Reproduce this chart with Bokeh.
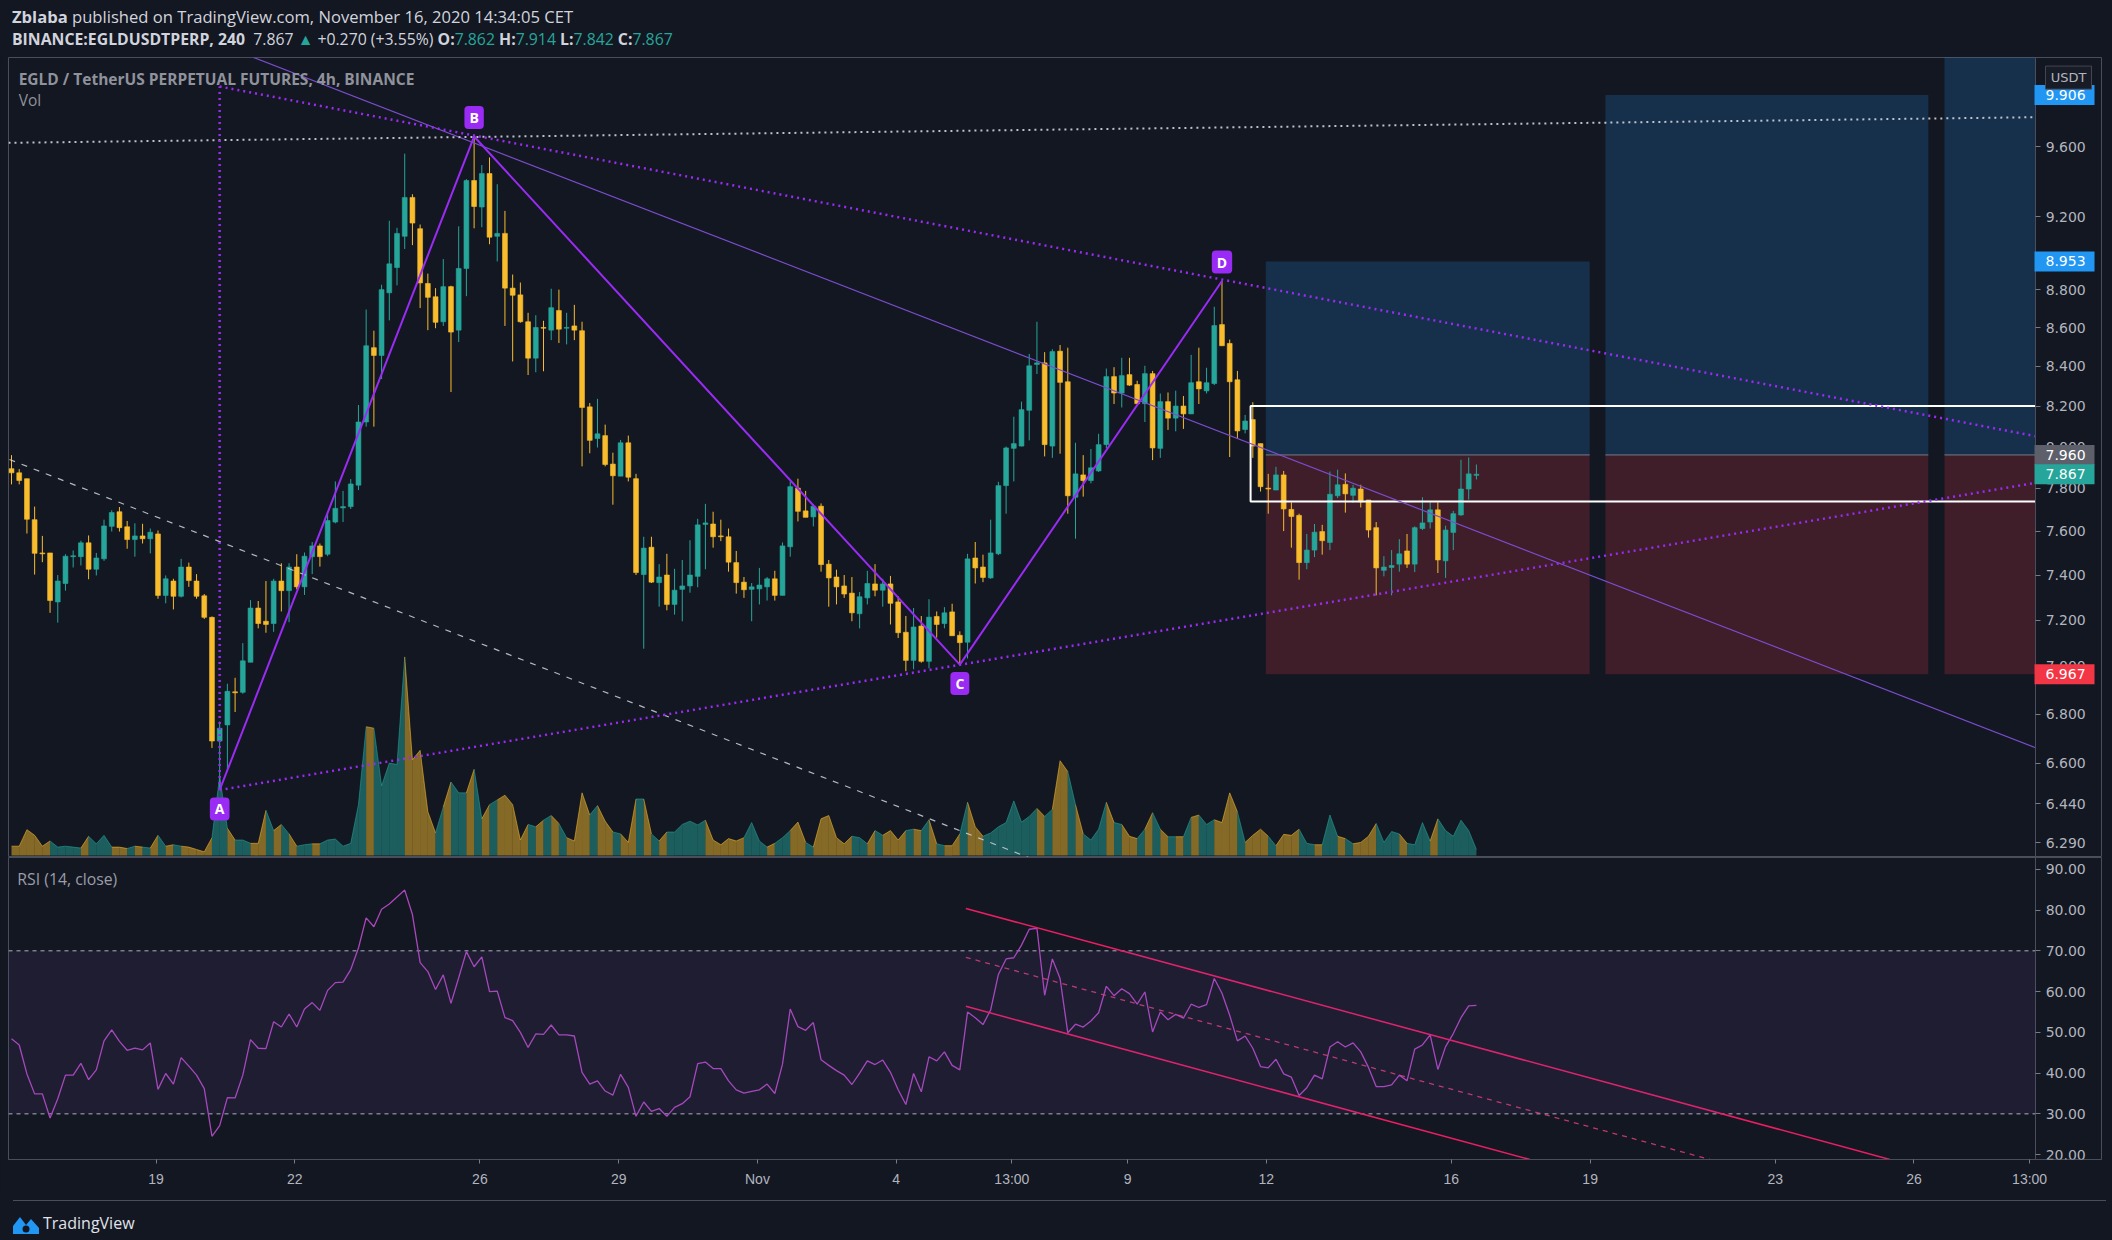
from bokeh.plotting import figure
from bokeh.models import (Range1d, LinearScale, FixedTicker, PrintfTickFormatter, Label,
                          BoxAnnotation, Div, ColumnDataSource)
from bokeh.layouts import column
from bokeh.embed import file_html
from bokeh.resources import INLINE

# ---------------- data (4h candles, EGLD/USDT perp, Oct 15 21:00 -> Nov 16 13:00 CET) -------------
OPEN = [
7.894, 7.874, 7.846, 7.653, 7.500, 7.500, 7.280, 7.362, 7.483, 7.483,
7.546, 7.426, 7.473, 7.622, 7.690, 7.620, 7.561, 7.578, 7.565, 7.587,
7.309, 7.373, 7.305, 7.436, 7.373, 7.307, 7.212, 6.690, 6.756, 6.893,
6.891, 7.018, 7.253, 7.195, 7.185, 7.373, 7.330, 7.436, 7.347, 7.483,
7.532, 7.494, 7.642, 7.708, 7.714, 7.815, 8.121, 8.496, 8.456, 8.784,
8.920, 9.091, 9.308, 9.133, 8.834, 8.763, 8.631, 8.817, 8.587, 8.915,
9.404, 9.254, 9.444, 9.091, 9.107, 8.809, 8.773, 8.631, 8.442, 8.601,
8.587, 8.690, 8.597, 8.609, 8.584, 8.196, 8.040, 8.054, 7.916, 7.858,
8.019, 7.846, 7.402, 7.526, 7.366, 7.400, 7.269, 7.336, 7.351, 7.394,
7.631, 7.633, 7.578, 7.574, 7.456, 7.368, 7.336, 7.338, 7.347, 7.383,
7.309, 7.528, 7.801, 7.694, 7.666, 7.716, 7.449, 7.391, 7.351, 7.319,
7.228, 7.298, 7.360, 7.332, 7.360, 7.280, 7.147, 7.026, 7.174, 7.022,
7.216, 7.185, 7.236, 7.134, 7.104, 7.477, 7.436, 7.387, 7.496, 7.813,
7.992, 8.003, 8.179, 8.410, 8.418, 8.003, 8.478, 8.322, 7.758, 7.864,
7.837, 7.883, 8.010, 8.348, 8.265, 8.358, 8.308, 8.212, 8.363, 7.992,
8.222, 8.140, 8.200, 8.161, 8.322, 8.276, 8.313, 8.616, 8.518, 8.332,
8.084, 8.133, 8.015, 7.801, 7.792, 7.864, 7.701, 7.673, 7.456, 7.513,
7.598, 7.548, 7.765, 7.819, 7.767, 7.797, 7.745, 7.616, 7.421, 7.434,
7.449, 7.509, 7.449, 7.612, 7.642, 7.699, 7.464, 7.594, 7.675, 7.797,
7.862]
HIGH = [
7.959, 7.892, 7.846, 7.714, 7.578, 7.500, 7.400, 7.494, 7.511, 7.556,
7.580, 7.500, 7.653, 7.697, 7.712, 7.647, 7.636, 7.634, 7.612, 7.603,
7.398, 7.383, 7.473, 7.456, 7.404, 7.315, 7.216, 6.770, 6.927, 6.952,
7.100, 7.288, 7.284, 7.373, 7.383, 7.453, 7.453, 7.494, 7.502, 7.550,
7.543, 7.679, 7.833, 7.788, 7.844, 8.205, 8.695, 8.584, 8.827, 9.177,
9.138, 9.559, 9.326, 9.156, 8.887, 8.809, 8.966, 8.822, 9.146, 9.412,
9.659, 9.493, 9.537, 9.383, 9.232, 8.882, 8.839, 8.678, 8.665, 8.636,
8.806, 8.801, 8.678, 8.720, 8.631, 8.215, 8.236, 8.108, 7.971, 8.033,
8.054, 7.869, 7.574, 7.574, 7.449, 7.496, 7.428, 7.468, 7.558, 7.657,
7.727, 7.690, 7.653, 7.612, 7.509, 7.391, 7.364, 7.432, 7.391, 7.419,
7.548, 7.833, 7.846, 7.788, 7.725, 7.729, 7.468, 7.424, 7.400, 7.391,
7.324, 7.419, 7.449, 7.383, 7.396, 7.305, 7.218, 7.253, 7.218, 7.292,
7.238, 7.257, 7.272, 7.151, 7.496, 7.550, 7.492, 7.653, 7.831, 8.001,
8.147, 8.222, 8.464, 8.631, 8.473, 8.488, 8.510, 8.496, 8.019, 7.959,
7.989, 8.063, 8.389, 8.396, 8.444, 8.444, 8.327, 8.403, 8.377, 8.263,
8.268, 8.277, 8.250, 8.459, 8.496, 8.393, 8.710, 8.847, 8.538, 8.377,
8.156, 8.219, 8.015, 7.869, 7.903, 7.883, 7.734, 7.681, 7.587, 7.633,
7.629, 7.880, 7.889, 7.871, 7.817, 7.817, 7.745, 7.642, 7.485, 7.513,
7.563, 7.587, 7.622, 7.758, 7.734, 7.734, 7.625, 7.694, 7.937, 7.948,
7.914]
LOW = [
7.819, 7.819, 7.589, 7.402, 7.458, 7.232, 7.189, 7.330, 7.434, 7.443,
7.381, 7.398, 7.464, 7.598, 7.598, 7.519, 7.483, 7.543, 7.498, 7.294,
7.274, 7.247, 7.300, 7.347, 7.294, 7.205, 6.662, 6.494, 6.569, 6.809,
6.885, 7.018, 7.164, 7.145, 7.149, 7.238, 7.191, 7.336, 7.311, 7.404,
7.438, 7.485, 7.636, 7.642, 7.703, 7.792, 8.098, 8.098, 8.336, 8.638,
8.824, 9.021, 9.042, 8.703, 8.587, 8.597, 8.609, 8.270, 8.525, 8.766,
9.135, 9.141, 9.047, 8.953, 8.609, 8.425, 8.626, 8.356, 8.370, 8.375,
8.535, 8.520, 8.513, 8.535, 7.905, 7.968, 7.996, 7.905, 7.723, 7.858,
7.833, 7.400, 7.076, 7.364, 7.259, 7.243, 7.224, 7.195, 7.321, 7.345,
7.426, 7.524, 7.554, 7.415, 7.317, 7.298, 7.195, 7.269, 7.286, 7.286,
7.309, 7.483, 7.645, 7.664, 7.622, 7.415, 7.259, 7.269, 7.298, 7.195,
7.164, 7.269, 7.305, 7.259, 7.181, 7.122, 6.980, 6.988, 7.016, 6.992,
7.124, 7.164, 7.132, 7.008, 7.034, 7.362, 7.368, 7.383, 7.490, 7.681,
7.833, 8.001, 8.031, 8.361, 7.953, 7.946, 7.966, 7.681, 7.565, 7.761,
7.824, 7.878, 7.992, 8.210, 8.193, 8.301, 8.210, 8.121, 7.935, 7.946,
8.082, 8.075, 8.087, 8.161, 8.210, 8.263, 8.305, 8.506, 7.950, 8.038,
8.065, 7.946, 7.785, 7.681, 7.792, 7.600, 7.524, 7.379, 7.426, 7.481,
7.492, 7.513, 7.754, 7.686, 7.732, 7.710, 7.570, 7.309, 7.394, 7.309,
7.415, 7.432, 7.413, 7.605, 7.612, 7.409, 7.387, 7.513, 7.671, 7.747,
7.842]
CLOSE = [
7.874, 7.837, 7.655, 7.498, 7.496, 7.286, 7.373, 7.485, 7.487, 7.546,
7.426, 7.477, 7.624, 7.686, 7.616, 7.561, 7.578, 7.565, 7.595, 7.309,
7.383, 7.305, 7.436, 7.375, 7.305, 7.212, 6.690, 6.742, 6.895, 6.889,
7.024, 7.253, 7.185, 7.181, 7.373, 7.330, 7.436, 7.347, 7.485, 7.532,
7.483, 7.649, 7.706, 7.714, 7.821, 8.121, 8.506, 8.456, 8.801, 8.940,
9.107, 9.308, 9.164, 8.837, 8.760, 8.628, 8.817, 8.577, 8.915, 9.404,
9.257, 9.444, 9.086, 9.107, 8.809, 8.771, 8.631, 8.442, 8.601, 8.597,
8.705, 8.592, 8.601, 8.587, 8.193, 8.031, 8.063, 7.914, 7.860, 8.019,
7.853, 7.411, 7.522, 7.368, 7.391, 7.269, 7.332, 7.351, 7.400, 7.629,
7.638, 7.574, 7.574, 7.458, 7.366, 7.334, 7.347, 7.355, 7.383, 7.309,
7.532, 7.808, 7.692, 7.664, 7.716, 7.447, 7.387, 7.347, 7.315, 7.232,
7.303, 7.362, 7.332, 7.360, 7.274, 7.145, 7.026, 7.170, 7.022, 7.213,
7.181, 7.232, 7.132, 7.102, 7.473, 7.432, 7.389, 7.500, 7.813, 7.994,
8.015, 8.182, 8.403, 8.418, 8.010, 8.476, 8.319, 7.765, 7.869, 7.837,
7.898, 8.010, 8.348, 8.265, 8.353, 8.305, 8.212, 8.363, 7.994, 8.222,
8.140, 8.200, 8.161, 8.317, 8.286, 8.317, 8.611, 8.506, 8.322, 8.077,
8.126, 8.003, 7.808, 7.797, 7.864, 7.703, 7.668, 7.456, 7.513, 7.595,
7.556, 7.772, 7.817, 7.774, 7.801, 7.736, 7.605, 7.432, 7.436, 7.443,
7.496, 7.449, 7.616, 7.638, 7.699, 7.468, 7.605, 7.681, 7.797, 7.869,
7.867]
VOLUME = [  # thousands
20, 20, 55, 43, 20, 31, 18, 20, 18, 16,
41, 25, 43, 18, 18, 15, 20, 18, 16, 43,
20, 23, 20, 18, 13, 8, 38, 168, 58, 33,
33, 26, 26, 96, 53, 66, 46, 20, 23, 25,
25, 33, 35, 20, 26, 108, 273, 270, 148, 196,
193, 421, 203, 223, 93, 48, 103, 156, 133, 133,
183, 78, 108, 118, 128, 108, 33, 66, 61, 75,
85, 68, 38, 31, 133, 86, 106, 73, 50, 46,
28, 120, 120, 46, 31, 50, 50, 66, 73, 65,
75, 33, 23, 36, 31, 38, 70, 31, 18, 26,
38, 53, 71, 28, 18, 78, 85, 38, 25, 41,
38, 25, 53, 43, 53, 33, 53, 56, 53, 76,
25, 21, 21, 46, 113, 61, 41, 48, 61, 70,
116, 71, 83, 100, 83, 98, 201, 178, 108, 46,
33, 56, 113, 70, 66, 41, 36, 56, 91, 56,
40, 40, 40, 81, 86, 66, 76, 70, 133, 93,
28, 43, 56, 41, 21, 45, 43, 56, 26, 23,
23, 86, 41, 36, 25, 28, 41, 68, 28, 51,
46, 26, 23, 70, 31, 78, 53, 41, 75, 53,
13]
RSI = [
48.4, 46.9, 39.8, 34.9, 34.9, 29.0, 33.7, 39.5, 39.5, 42.4,
38.4, 40.8, 47.9, 50.6, 47.8, 45.6, 46.1, 45.7, 47.4, 36.0,
39.9, 37.3, 43.8, 41.7, 39.5, 36.2, 24.5, 27.1, 34.0, 33.9,
39.5, 48.2, 46.1, 46.0, 52.6, 51.3, 54.5, 51.3, 55.7, 57.3,
55.4, 60.3, 62.2, 62.3, 65.4, 70.7, 78.1, 75.9, 80.2, 81.5,
83.2, 84.9, 78.9, 67.1, 64.9, 60.5, 64.1, 57.1, 63.4, 69.8,
66.1, 68.5, 60.0, 60.1, 53.6, 52.9, 50.0, 46.3, 49.6, 49.5,
51.8, 49.4, 49.4, 49.1, 40.2, 37.3, 38.1, 35.6, 34.6, 39.7,
36.5, 29.4, 32.9, 30.6, 31.3, 29.4, 31.6, 32.5, 34.2, 42.3,
42.7, 41.1, 41.1, 38.1, 35.9, 35.1, 35.5, 35.9, 37.3, 35.0,
42.2, 55.7, 51.4, 50.5, 52.4, 43.3, 41.9, 40.6, 39.5, 37.2,
40.0, 43.0, 42.1, 43.2, 40.2, 35.9, 32.3, 39.9, 35.4, 44.0,
43.0, 45.2, 41.9, 40.8, 55.0, 53.6, 51.9, 55.5, 64.2, 68.0,
68.3, 71.4, 75.3, 75.5, 59.1, 68.0, 63.2, 49.9, 52.0, 51.3,
52.8, 54.8, 61.3, 59.0, 60.7, 59.5, 56.9, 59.9, 50.1, 55.0,
53.1, 54.4, 53.5, 56.9, 56.1, 56.8, 63.2, 59.6, 54.2, 47.9,
49.1, 46.1, 41.6, 41.3, 43.4, 39.8, 39.0, 34.5, 36.4, 39.5,
38.6, 46.4, 47.7, 46.4, 47.4, 45.2, 41.4, 36.7, 36.7, 37.1,
39.5, 38.1, 45.9, 46.9, 49.4, 40.9, 46.5, 49.7, 53.6, 56.5,
56.6]

FIRST_BAR_DAY = 15.875          # Oct 15, 21:00 CET; x unit = day counted from Oct 0 (Nov 1 = 32)
BAR_DAYS = 4 / 24
TIME = [FIRST_BAR_DAY + i * BAR_DAYS for i in range(len(CLOSE))]

PRICE_TICKS = [6.29, 6.44, 6.6, 6.8, 7.0, 7.2, 7.4, 7.6, 7.8, 8.0, 8.2, 8.4, 8.6, 8.8, 9.2, 9.6]
RSI_TICKS = [20, 30, 40, 50, 60, 70, 80, 90]
RSI_BANDS = [30, 70]
TIME_TICKS = [19, 22, 26, 29, 32, 35, 37.5, 40, 43, 47, 50, 54, 57, 59.5]
TIME_LABELS = ["19", "22", "26", "29", "Nov", "4", "13:00", "9", "12", "16", "19", "23", "26", "13:00"]

# ABCD pattern: bar indices of the pivots
A_I, B_I, C_I, D_I = 27, 60, 123, 157
# Long position tools (time span, target); shared entry / stop
POS_LEFT = [42.99, 50.33, 57.66]
POS_RIGHT = [49.99, 57.31, 59.63]
POS_TARGET = [8.953, 9.906, 10.6]
POS_ENTRY = 7.960
POS_STOP = 6.967
# white range box (left time, top / bottom price), extends to the right edge
RANGE_LEFT, RANGE_TOP, RANGE_BOTTOM = 42.66, 8.200, 7.738
# trend lines (time, price)
THIN_LINE = ([21.106, 59.63], [10.134, 6.663])
WHITE_DASH = ([15.83, 37.86], [7.938, 6.233])
WHITE_DOT = ([15.81, 59.63], [9.622, 9.773])
UPPER_DOT = ([20.375, 59.63], [9.957, 8.051])
LOWER_DOT = ([20.375, 59.63], [6.494, 7.826])
VERT_DOT = ([20.375, 20.375], [6.494, 9.957])
# RSI channel (time, rsi)
CH_UPPER = ([36.505, 56.48], [80.4, 18.8])
CH_LOWER = ([36.505, 48.70], [56.4, 18.8])
CH_MID = ([36.505, 52.59], [68.4, 18.8])

# ---------------- styling ----------------
BG = "#131722"
BORDER = "#4a4e5a"
AXIS_TXT = "#b2b5be"
UP = "#26a69a"
DOWN = "#f8bc2c"
VIOLET = "#9a2bf5"
PINK = "#e91e63"

X0 = 15.81            # left edge of the panes
AXIS_X = 59.63        # price scale position (right end of the time area)
X1 = 61.054           # right edge of price-scale column
PX_PER_DAY = 46.26
SHIFT = 6
xr = Range1d(X0, X1)

pm = figure(width=2102, height=800, x_range=xr, y_range=Range1d(6.233, 10.134),
            y_axis_type="log", y_axis_location="right", x_axis_location=None,
            toolbar_location=None, output_backend="svg",
            background_fill_color=BG, border_fill_color=BG,
            min_border_left=2 + SHIFT, min_border_right=1, min_border_top=0, min_border_bottom=0,
            outline_line_color=BORDER)
pm.grid.visible = False
pm.extra_y_ranges = {"vol": Range1d(-4, 1691)}
pm.extra_y_scales = {"vol": LinearScale()}

ax = pm.yaxis[0]
ax.fixed_location = AXIS_X
ax.ticker = FixedTicker(ticks=PRICE_TICKS, minor_ticks=[])
ax.formatter = PrintfTickFormatter(format="%.3f")

# long position tools
for l, r_, tgt in zip(POS_LEFT, POS_RIGHT, POS_TARGET):
    pm.quad(left=l, right=r_, bottom=POS_ENTRY, top=tgt, fill_color="#2196f3", fill_alpha=0.2, line_color=None)
    pm.quad(left=l, right=r_, bottom=POS_STOP, top=POS_ENTRY, fill_color="#f23645", fill_alpha=0.2, line_color=None)
    pm.segment(x0=l, y0=POS_ENTRY, x1=r_, y1=POS_ENTRY, line_color="#787b86", line_width=1)

# volume (area coloured per bar)
vxs, vys, vcol = [], [], []
for i in range(1, len(VOLUME)):
    vxs.append([TIME[i - 1], TIME[i - 1], TIME[i], TIME[i]])
    vys.append([0, VOLUME[i - 1], VOLUME[i], 0])
    vcol.append(UP if CLOSE[i] >= OPEN[i] else DOWN)
pm.patches(vxs, vys, fill_color=vcol, fill_alpha=0.5, line_color=None, y_range_name="vol")
pm.multi_line([x[1:3] for x in vxs], [y[1:3] for y in vys], line_color=vcol, line_alpha=0.55,
              line_width=1, y_range_name="vol")

# candles
colors = [UP if c >= o else DOWN for o, c in zip(OPEN, CLOSE)]
src = ColumnDataSource(dict(t=TIME, h=HIGH, l=LOW,
                            top=[max(o, c) for o, c in zip(OPEN, CLOSE)],
                            bot=[min(o, c) for o, c in zip(OPEN, CLOSE)],
                            col=colors))
pm.segment(x0="t", y0="h", x1="t", y1="l", line_color="col", line_width=1, source=src)
pm.vbar(x="t", width=0.105, top="top", bottom="bot", fill_color="col", line_color="col",
        line_width=0.6, source=src)

# range box (open to the right)
pm.line([AXIS_X, RANGE_LEFT, RANGE_LEFT, AXIS_X], [RANGE_TOP, RANGE_TOP, RANGE_BOTTOM, RANGE_BOTTOM],
        line_color="white", line_width=2)

# trend lines
pm.line(*THIN_LINE, line_color="#7c4dce", line_width=1.2)
pm.line(*WHITE_DASH, line_color="#d1d4dc", line_width=1.2, line_dash="6 7", line_alpha=0.85)
pm.line(*WHITE_DOT, line_color="#d1d4dc", line_width=2, line_dash="2 4", line_alpha=0.9)
for ln in (UPPER_DOT, LOWER_DOT, VERT_DOT):
    pm.line(*ln, line_color=VIOLET, line_width=2.5, line_dash="2 4")

# ABCD pattern
piv = [(A_I, LOW, "A", -19), (B_I, HIGH, "B", 19), (C_I, LOW, "C", -19), (D_I, HIGH, "D", 19)]
pm.line([TIME[i] for i, arr, _, _ in piv], [arr[i] for i, arr, _, _ in piv], line_color=VIOLET, line_width=2)
for i, arr, txt, off in piv:
    pm.add_layout(Label(x=TIME[i], y=arr[i], y_offset=off, text=txt, text_align="center",
                        text_baseline="middle", text_color="white", text_font="Open Sans",
                        text_font_style="bold", text_font_size="14px",
                        background_fill_color=VIOLET, border_radius=4,
                        padding=dict(left=5, right=5, top=2, bottom=2)))

# pane titles
pm.add_layout(Label(x=16.03, y=10.005, text="EGLD / TetherUS PERPETUAL FUTURES, 4h, BINANCE",
                    text_baseline="middle", text_color="#8f929b", text_font="Open Sans",
                    text_font_style="bold", text_font_size="15.5px"))
pm.add_layout(Label(x=16.03, y=9.878, text="Vol", text_baseline="middle", text_color="#8f929b",
                    text_font="Open Sans", text_font_size="15.5px"))

# price-scale tags (boxes drawn above the price scale)
TAG_X = X0 + (2047 - 10) / PX_PER_DAY
TAG_CX = X0 + (2066 - 10) / PX_PER_DAY
TAG_PRICES = [POS_TARGET[1], POS_TARGET[0], POS_ENTRY, CLOSE[-1], POS_STOP]
TAG_COLORS = ["#2196f3", "#2196f3", "#5d606b", UP, "#f23645"]
pm.rect(x=[TAG_CX] * len(TAG_PRICES), y=TAG_PRICES, width=60, height=20,
        width_units="screen", height_units="screen", fill_color=TAG_COLORS,
        line_color=None, level="overlay")
for price in TAG_PRICES:
    pm.add_layout(Label(x=TAG_X, y=price, text=f"{price:.3f}", text_baseline="middle",
                        text_color="white", text_font="DejaVu Sans", text_font_size="14px",
                        level="overlay"))
USDT_CX, USDT_Y = X0 + (2070 - 10) / PX_PER_DAY, 10.011
pm.rect(x=[USDT_CX], y=[USDT_Y], width=46, height=23, width_units="screen", height_units="screen",
        fill_color="#181c27", line_color="#434651", line_width=1, level="overlay")
pm.add_layout(Label(x=USDT_CX, y=USDT_Y, text="USDT", text_align="center", text_baseline="middle",
                    text_color=AXIS_TXT, text_font="DejaVu Sans", text_font_size="13px",
                    level="overlay"))

# ---------------- RSI pane ----------------
pr = figure(width=2102, height=338, x_range=xr, y_range=Range1d(18.8, 92.9),
            y_axis_location="right", toolbar_location=None, output_backend="svg",
            background_fill_color=BG, border_fill_color=BG,
            min_border_left=2 + SHIFT, min_border_right=1, min_border_top=0, min_border_bottom=36,
            outline_line_color=BORDER)
pr.grid.visible = False
ry = pr.yaxis[0]
ry.fixed_location = AXIS_X
ry.ticker = FixedTicker(ticks=RSI_TICKS, minor_ticks=[])
ry.formatter = PrintfTickFormatter(format="%.2f")
rx = pr.xaxis[0]
rx.ticker = FixedTicker(ticks=TIME_TICKS, minor_ticks=[])
rx.major_label_overrides = {t: lab for t, lab in zip(TIME_TICKS, TIME_LABELS)}
for a in (ax, ry, rx):
    a.axis_line_color = BORDER
    a.major_tick_line_color = "#787b86"
    a.major_tick_in = 0
    a.minor_tick_line_color = None
    a.major_label_text_color = AXIS_TXT
    a.major_label_text_font_size = "14px"
for a in (ax, ry):
    a.major_tick_out = 5
    a.major_label_standoff = 5
    a.major_label_text_font = "DejaVu Sans"
rx.major_tick_out = 4
rx.major_label_standoff = 7
rx.major_label_text_font = "Liberation Sans"

pr.add_layout(BoxAnnotation(right=AXIS_X, bottom=RSI_BANDS[0], top=RSI_BANDS[1],
                            fill_color="#7e57c2", fill_alpha=0.1, line_color=None))
for lvl in RSI_BANDS:
    pr.line([X0, AXIS_X], [lvl, lvl], line_color="#b2b5be", line_dash="4 4", line_width=1)
pr.line(TIME, RSI, line_color="#ab47bc", line_width=1.3)
pr.line(*CH_UPPER, line_color=PINK, line_width=1.5)
pr.line(*CH_LOWER, line_color=PINK, line_width=1.5)
pr.line(*CH_MID, line_color="#ec407a", line_width=1.3, line_dash="5 5", line_alpha=0.8)
pr.add_layout(Label(x=16.0, y=87.55, text="RSI (14, close)", text_baseline="middle",
                    text_color="#9a9da6", text_font="Open Sans", text_font_size="15.8px"))

# ---------------- header / footer ----------------
TEAL = UP
hdr = (
    f'<div style="font-family:\'Open Sans\',sans-serif;color:#d1d4dc;'
    f'line-height:22px;margin-top:1px;padding-left:{SHIFT + 1}px;white-space:nowrap">'
    '<div style="font-size:16.6px"><b>Zblaba</b> published on TradingView.com, November 16, 2020 14:34:05 CET</div>'
    f'<div style="font-size:15.8px"><b>BINANCE:EGLDUSDTPERP, 240</b>&nbsp; {CLOSE[-1]:.3f} '
    f'<span style="color:{TEAL}">&#9650;</span> +0.270 (+3.55%) '
    f'<b>O:</b><span style="color:{TEAL}">{OPEN[-1]:.3f}</span> '
    f'<b>H:</b><span style="color:{TEAL}">{HIGH[-1]:.3f}</span> '
    f'<b>L:</b><span style="color:{TEAL}">{LOW[-1]:.3f}</span> '
    f'<b>C:</b><span style="color:{TEAL}">{CLOSE[-1]:.3f}</span></div></div>'
)
header = Div(text=hdr, width=2102, height=47, styles={"background-color": BG})
logo = ('<svg width="30" height="22" viewBox="0 0 30 22" style="vertical-align:middle;margin-right:2px">'
        '<path d="M2 20 L2 12 L9 3 L15 11 L20 5 L28 14 L28 20 Z" fill="#2196f3"/>'
        '<circle cx="15" cy="15" r="3.5" fill="#131722"/></svg>')
footer = Div(text=(f'<div style="margin-left:{SHIFT + 2}px;width:2093px;height:0;'
                   f'border-top:1px solid {BORDER}"></div>'
                   f'<div style="font-family:\'Open Sans\',sans-serif;font-size:16px;color:#e0e3eb;'
                   f'padding-top:11px;padding-left:{SHIFT}px;line-height:22px;white-space:nowrap">'
                   f'{logo}TradingView</div>'),
             width=2102, height=39, styles={"background-color": BG})

p = column(header, pm, pr, footer, spacing=0,
           styles={"background-color": BG, "box-shadow": f"0 0 0 8px {BG}"})

open("out.html", "w").write(file_html(p, INLINE))
